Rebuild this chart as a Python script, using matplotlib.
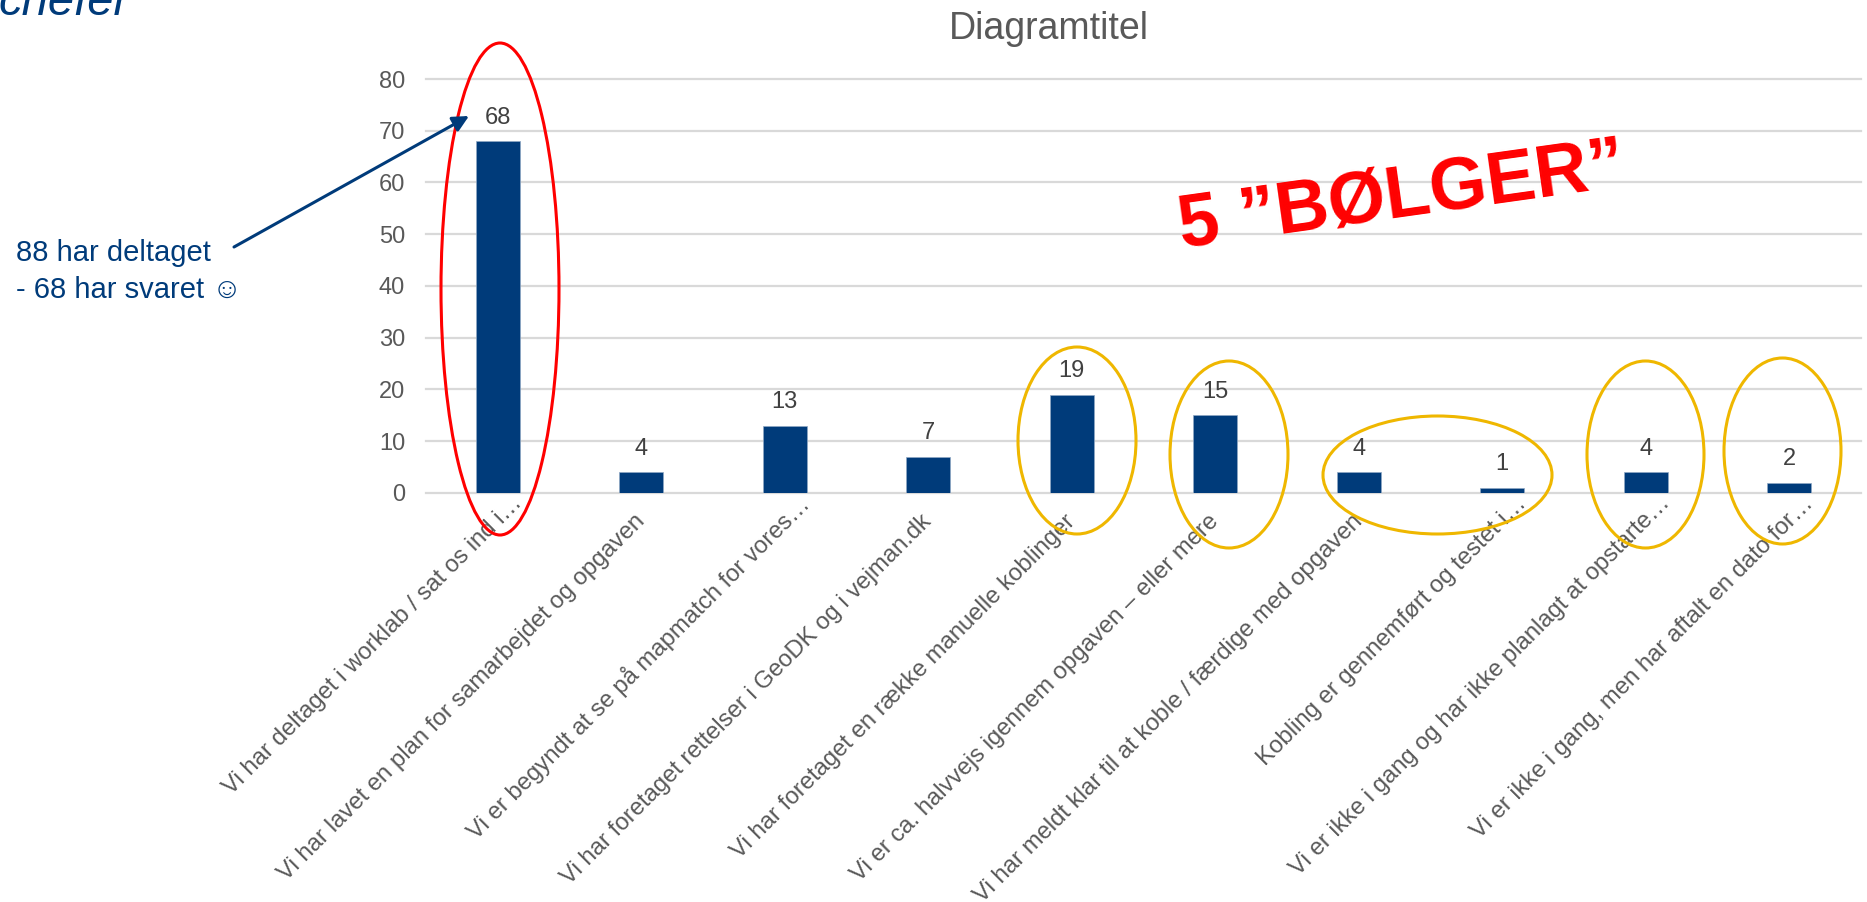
import matplotlib
matplotlib.use("Agg")
import matplotlib.pyplot as plt
from matplotlib.patches import Ellipse
from matplotlib.transforms import ScaledTranslation

plt.rcParams['font.family'] = ['Liberation Sans', 'DejaVu Sans']

kategorier = [
    "Vi har deltaget i worklab / sat os ind i…",
    "Vi har lavet en plan for samarbejdet og opgaven",
    "Vi er begyndt at se på mapmatch for vores…",
    "Vi har foretaget rettelser i GeoDK og i vejman.dk",
    "Vi har foretaget en række manuelle koblinger",
    "Vi er ca. halvvejs igennem opgaven – eller mere",
    "Vi har meldt klar til at koble / færdige med opgaven",
    "Kobling er gennemført og testet i…",
    "Vi er ikke i gang og har ikke planlagt at opstarte…",
    "Vi er ikke i gang, men har aftalt en dato for…",
]
svar = [68, 4, 13, 7, 19, 15, 4, 1, 4, 2]
y_ticks = [0, 10, 20, 30, 40, 50, 60, 70, 80]

BLA = "#003B7A"
GRA = "#595959"
W, H = 1867, 902

fig = plt.figure(figsize=(W / 100, H / 100), dpi=100)
ax = fig.add_axes([426 / W, 1 - 493 / H, (1861 - 426) / W, (493 - 79) / H])

pos = list(range(len(svar)))
bars = ax.bar(pos, svar, width=0.31, color=BLA, edgecolor="#8FA8C4", linewidth=0.5, zorder=3)
ax.bar_label(bars, padding=9, fontsize=17, color="#404040")

ax.set_xlim(-0.5, len(svar) - 0.5)
ax.set_ylim(0, 80)
ax.set_yticks(y_ticks)
ax.set_xticks(pos)
ax.set_xticklabels(kategorier, rotation=45, ha="right", va="center", rotation_mode="anchor")
ax.tick_params(axis="y", length=0, pad=15, labelsize=17, labelcolor=GRA)
ax.tick_params(axis="x", length=0, pad=18, labelsize=17.2, labelcolor=GRA)
ax.grid(axis="y", color="#D9D9D9", linewidth=1.6, zorder=0)
ax.set_axisbelow(True)
for s in ax.spines.values():
    s.set_visible(False)
for g in ax.yaxis.get_gridlines():
    g.set_clip_on(False)

# afkortede etiketter sidder lidt hoejere og til hoejre
skub = ScaledTranslation(15 / 72, 13 / 72, fig.dpi_scale_trans)
for lab, navn in zip(ax.get_xticklabels(), kategorier):
    if navn.endswith("…"):
        lab.set_transform(lab.get_transform() + skub)

# overlay i pixelkoordinater til tekst og markeringer
ov = fig.add_axes([0, 0, 1, 1], zorder=5)
ov.set_xlim(0, W)
ov.set_ylim(H, 0)
ov.axis("off")

ov.text(1049, 29, "Diagramtitel", fontsize=27, color=GRA, ha="center", va="center")
ov.text(130, 15, "chefer", fontsize=34, color=BLA, style="italic", ha="right", va="baseline")
ov.text(16, 253, "88 har deltaget", fontsize=21, color=BLA, va="center")
ov.text(16, 290, "- 68 har svaret ☺", fontsize=21, color=BLA, va="center")
ov.text(1402, 197, "5 ”BØLGER”", fontsize=53, color="#FF0000", fontweight="bold",
        rotation=8, ha="center", va="center")

ov.annotate("", xy=(469, 116), xytext=(234, 247),
            arrowprops=dict(arrowstyle="-|>", color=BLA, lw=2.2, mutation_scale=24,
                            shrinkA=0, shrinkB=0))

ov.add_patch(Ellipse((500, 289), 118, 492, fill=False, edgecolor="#FF0000", linewidth=2.2))
gule = [(1077, 440.5, 118, 187), (1229, 454.5, 118, 187), (1437.5, 475, 229, 118),
        (1645.5, 454.5, 117, 187), (1782.5, 451, 117, 186)]
for cx, cy, bredde, hojde in gule:
    ov.add_patch(Ellipse((cx, cy), bredde, hojde, fill=False, edgecolor="#EFB700", linewidth=2.2))

fig.savefig("out.png", dpi=100)
